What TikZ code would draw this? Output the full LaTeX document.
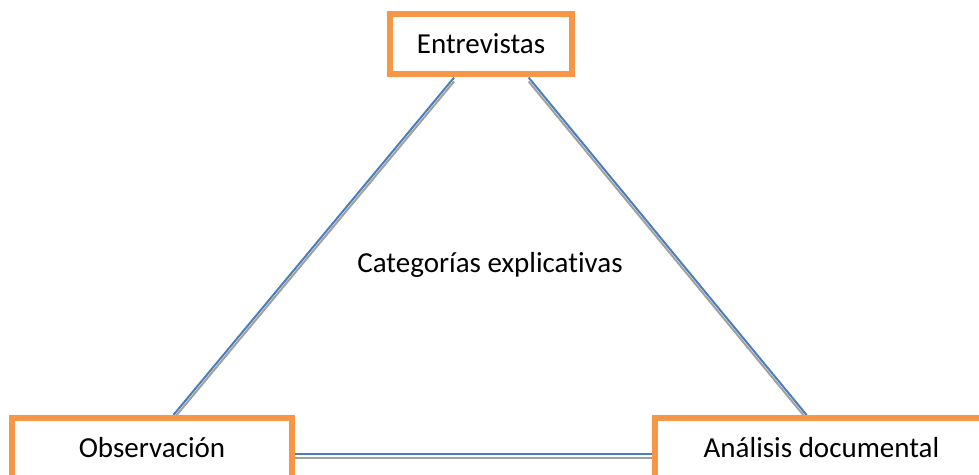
\documentclass[tikz,border=0pt]{standalone}
\usepackage{fontspec}
\setmainfont{Carlito}[Ligatures=NoCommon]
\usetikzlibrary{calc,backgrounds}
\definecolor{boxorange}{HTML}{F79646}
\definecolor{linkblue}{HTML}{4A7EBB}
\definecolor{shadowgray}{HTML}{A0A0A0}
\begin{document}
\begin{tikzpicture}[x=1pt,y=1pt,
  every node/.style={font=\fontsize{29}{34}\selectfont},
  methodbox/.style={draw=boxorange, line width=6pt, fill=white, inner sep=0pt,
    minimum height=60pt, text height=18.5pt, text depth=0pt},
  conn/.style={draw=linkblue, line width=2pt,
    preaction={draw=shadowgray, line width=2pt, transform canvas={yshift=-4pt}}}]
\useasboundingbox (0,0) rectangle (979,474);
\clip (0,0) rectangle (979,474);
\node[methodbox, minimum width=182pt] (E) at (481,429.5) {Entrevistas};
\node[methodbox, minimum width=280pt] (O) at (152,26) {Observación};
\node[methodbox, minimum width=333pt] (A) at (821.5,26) {Análisis documental};
\node[anchor=base, inner sep=0pt] (C) at (490,201) {Categorías explicat\kern0pt ivas};
\coordinate (e1) at ($(E.south west)!0.357!(E.south east)$);
\coordinate (e2) at ($(E.south west)!0.753!(E.south east)$);
\coordinate (o1) at ($(O.north west)!0.575!(O.north east)$);
\coordinate (a1) at ($(A.north west)!0.456!(A.north east)$);
\path (O.east) ++(0,-6) coordinate (h1);
\coordinate (h2) at (h1 -| A.west);
\begin{scope}[on background layer]
\draw[conn] (e1) -- (o1);
\draw[conn] (e2) -- (a1);
\draw[conn] (h1) -- (h2);
\end{scope}
\end{tikzpicture}
\end{document}
